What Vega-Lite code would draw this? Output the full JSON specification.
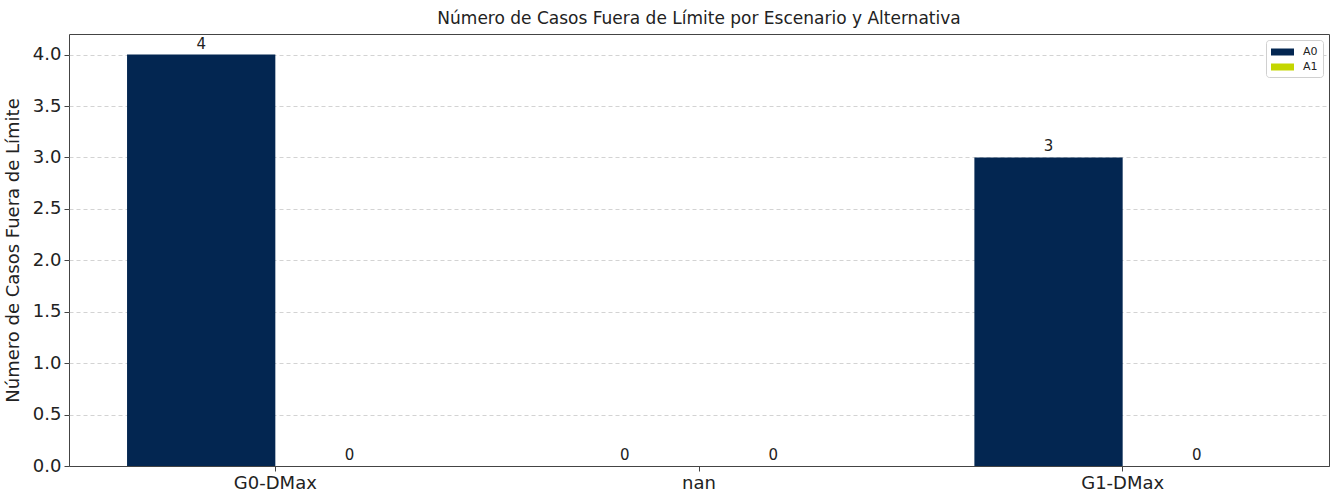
{
  "$schema": "https://vega.github.io/schema/vega-lite/v6.json",
  "width": 1260,
  "height": 432,
  "autosize": "none",
  "padding": {"left": 69, "top": 34, "right": 1, "bottom": 26},
  "background": "white",
  "config": {
    "font": "DejaVu Sans",
    "view": {"stroke": "#444", "strokeWidth": 1},
    "axis": {"domain": false, "tickColor": "#444", "tickSize": 5, "labelColor": "#222", "titleColor": "#222", "labelFontSize": 18, "titleFontSize": 18, "titleFontWeight": "normal"}
  },
  "title": {"text": "Número de Casos Fuera de Límite por Escenario y Alternativa", "fontSize": 17, "fontWeight": "normal", "color": "#222", "offset": 6},
  "data": {
    "values": [
      {"escenario": "G0-DMax", "alternativa": "A0", "casos": 4},
      {"escenario": "G0-DMax", "alternativa": "A1", "casos": 0},
      {"escenario": "nan", "alternativa": "A0", "casos": 0},
      {"escenario": "nan", "alternativa": "A1", "casos": 0},
      {"escenario": "G1-DMax", "alternativa": "A0", "casos": 3},
      {"escenario": "G1-DMax", "alternativa": "A1", "casos": 0}
    ]
  },
  "encoding": {
    "x": {
      "field": "escenario", "type": "nominal", "sort": ["G0-DMax", "nan", "G1-DMax"],
      "scale": {"paddingInner": 0.3, "paddingOuter": 0.137},
      "axis": {"title": null, "labelAngle": 0, "labelPadding": 3, "grid": false, "domain": true, "domainColor": "#444", "domainWidth": 1}
    },
    "xOffset": {"field": "alternativa", "type": "nominal", "sort": ["A0", "A1"], "scale": {"paddingInner": 0, "paddingOuter": 0}},
    "y": {
      "field": "casos", "type": "quantitative",
      "scale": {"domain": [0, 4.2], "nice": false, "zero": true},
      "axis": {"title": "Número de Casos Fuera de Límite", "values": [0, 0.5, 1, 1.5, 2, 2.5, 3, 3.5, 4], "format": ".1f", "labelPadding": 3, "titlePadding": 10, "grid": true, "gridDash": [4, 3], "gridColor": "#c8c8c8", "gridWidth": 0.8}
    }
  },
  "layer": [
    {
      "mark": {"type": "bar"},
      "encoding": {
        "color": {
          "field": "alternativa", "type": "nominal",
          "scale": {"domain": ["A0", "A1"], "range": ["#032651", "#c4d600"]},
          "legend": {
            "title": null, "orient": "top-right", "offset": 6,
            "symbolType": "M-1,-0.5H2.29V0.5H-1Z", "symbolSize": 196, "symbolStrokeWidth": 0,
            "labelFontSize": 11, "labelColor": "#222", "labelOffset": 18, "rowPadding": 3,
            "fillColor": "white", "strokeColor": "#d0d0d0", "cornerRadius": 3, "padding": 5
          }
        }
      }
    },
    {
      "mark": {"type": "text", "baseline": "bottom", "dy": -3, "fontSize": 15, "color": "#222"},
      "encoding": {"text": {"field": "casos", "type": "quantitative"}}
    }
  ]
}
